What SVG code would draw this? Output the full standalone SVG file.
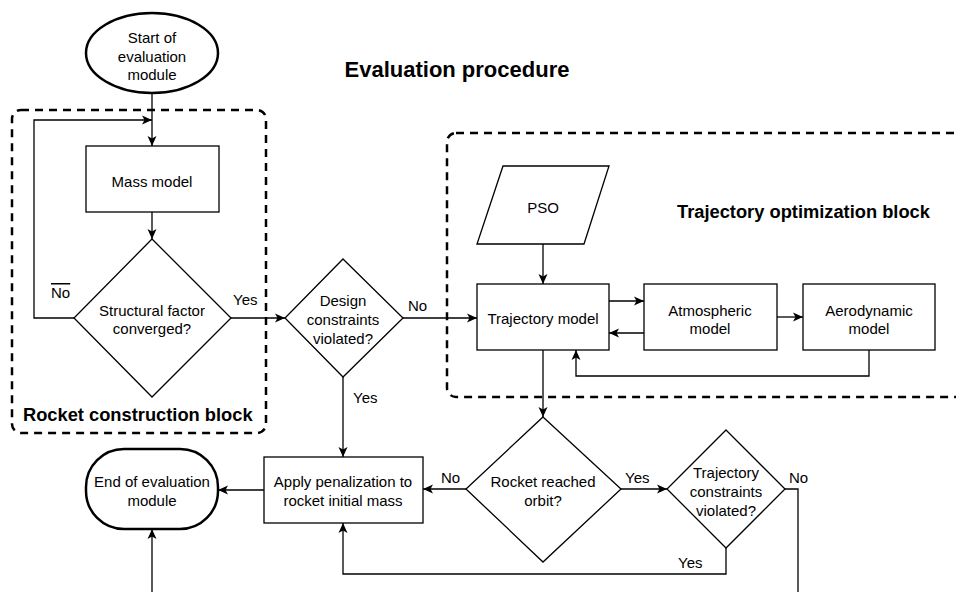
<svg xmlns="http://www.w3.org/2000/svg" width="956" height="592" viewBox="0 0 956 592">
  <defs>
    <marker id="arrow" markerUnits="userSpaceOnUse" markerWidth="12" markerHeight="10" refX="10" refY="5" orient="auto">
      <path d="M0,0.5 L10,5 L0,9.5 L2.5,5 Z" fill="#000"/>
    </marker>
  </defs>
  <style>
    .node { fill: #fff; stroke: #000; stroke-width: 1.3; }
    .term { fill: #fff; stroke: #000; stroke-width: 2.5; }
    .block { fill: none; stroke: #000; stroke-width: 2.5; stroke-dasharray: 8 6; }
    .edge { fill: none; stroke: #000; stroke-width: 1.3; }
    .arr { marker-end: url(#arrow); }
    text { font-family: "Liberation Sans", Arial, sans-serif; fill: #000; }
    .lbl { font-size: 15px; text-anchor: middle; }
    .edge-lbl { font-size: 15px; }
    .title { font-size: 18.3px; font-weight: bold; }
  </style>

  <rect width="956" height="592" fill="#fff"/>

  <!-- dashed grouping blocks -->
  <g id="rocket-construction-block">
    <rect class="block" x="12" y="110" width="254" height="323" rx="9"/>
    <text class="title" x="23" y="421">Rocket construction block</text>
  </g>
  <g id="trajectory-optimization-block">
    <rect class="block" x="447" y="133" width="540" height="264" rx="9"/>
    <text class="title" x="677" y="218">Trajectory optimization block</text>
  </g>

  <text x="457" y="77" font-size="22" font-weight="bold" text-anchor="middle">Evaluation procedure</text>

  <!-- connectors -->
  <g id="connectors">
    <path class="edge arr" d="M152,93 V146"/>
    <path class="edge arr" d="M74,318 H34 V120 H152"/>
    <path class="edge arr" d="M152,212 V239"/>
    <path class="edge arr" d="M231,318 H285"/>
    <path class="edge arr" d="M403,318 H477"/>
    <path class="edge arr" d="M343,377 V457"/>
    <path class="edge arr" d="M543,244 V284"/>
    <path class="edge arr" d="M609,301 H644"/>
    <path class="edge arr" d="M644,333 H609"/>
    <path class="edge arr" d="M777,317 H803"/>
    <path class="edge arr" d="M869,350 V376 H576 V350"/>
    <path class="edge arr" d="M543,350 V417"/>
    <path class="edge arr" d="M466,489 H423"/>
    <path class="edge arr" d="M264,490 H218"/>
    <path class="edge arr" d="M621,489 H667"/>
    <path class="edge arr" d="M726,548 V574 H343 V523"/>
    <path class="edge" d="M785,489 H798 V592"/>
    <path class="edge arr" d="M152,592 V529"/>

    <text class="edge-lbl" x="51" y="298" style="text-decoration: overline">No</text>
    <text class="edge-lbl" x="233" y="305">Yes</text>
    <text class="edge-lbl" x="408" y="311">No</text>
    <text class="edge-lbl" x="353" y="403">Yes</text>
    <text class="edge-lbl" x="441" y="483">No</text>
    <text class="edge-lbl" x="625" y="483">Yes</text>
    <text class="edge-lbl" x="789" y="483">No</text>
    <text class="edge-lbl" x="678" y="568">Yes</text>
  </g>

  <!-- nodes -->
  <g id="start">
    <ellipse class="term" cx="152" cy="53" rx="66" ry="40"/>
    <text class="lbl" x="152" y="42.5">Start of</text>
    <text class="lbl" x="152" y="61.5">evaluation</text>
    <text class="lbl" x="152" y="80">module</text>
  </g>
  <g id="mass-model">
    <rect class="node" x="86" y="146" width="133" height="66"/>
    <text class="lbl" x="152" y="186.5">Mass model</text>
  </g>
  <g id="structural-factor">
    <polygon class="node" points="152,239 231,318 152,397 74,318"/>
    <text class="lbl" x="152" y="315.5">Structural factor</text>
    <text class="lbl" x="152" y="334">converged?</text>
  </g>
  <g id="design-constraints">
    <polygon class="node" points="343,259 403,318 343,377 285,318"/>
    <text class="lbl" x="343" y="305.5">Design</text>
    <text class="lbl" x="343" y="325">constraints</text>
    <text class="lbl" x="343" y="344">violated?</text>
  </g>
  <g id="pso">
    <polygon class="node" points="503,166 609,166 584,244 477,244"/>
    <text class="lbl" x="543" y="213">PSO</text>
  </g>
  <g id="trajectory-model">
    <rect class="node" x="477" y="284" width="132" height="66"/>
    <text class="lbl" x="543" y="324">Trajectory model</text>
  </g>
  <g id="atmospheric-model">
    <rect class="node" x="644" y="284" width="133" height="66"/>
    <text class="lbl" x="710" y="316">Atmospheric</text>
    <text class="lbl" x="710" y="334">model</text>
  </g>
  <g id="aerodynamic-model">
    <rect class="node" x="803" y="284" width="132" height="66"/>
    <text class="lbl" x="869" y="316">Aerodynamic</text>
    <text class="lbl" x="869" y="334">model</text>
  </g>
  <g id="rocket-reached-orbit">
    <polygon class="node" points="543,417 621,489 543,562 466,489"/>
    <text class="lbl" x="543" y="487">Rocket reached</text>
    <text class="lbl" x="543" y="506">orbit?</text>
  </g>
  <g id="trajectory-constraints">
    <polygon class="node" points="726,430 785,489 726,548 667,489"/>
    <text class="lbl" x="726" y="478">Trajectory</text>
    <text class="lbl" x="726" y="497">constraints</text>
    <text class="lbl" x="726" y="516">violated?</text>
  </g>
  <g id="apply-penalization">
    <rect class="node" x="264" y="457" width="159" height="66"/>
    <text class="lbl" x="343" y="487">Apply penalization to</text>
    <text class="lbl" x="343" y="506">rocket initial mass</text>
  </g>
  <g id="end">
    <rect class="term" x="86" y="449" width="132" height="80" rx="38" ry="38"/>
    <text class="lbl" x="152" y="487">End of evaluation</text>
    <text class="lbl" x="152" y="506">module</text>
  </g>
</svg>
